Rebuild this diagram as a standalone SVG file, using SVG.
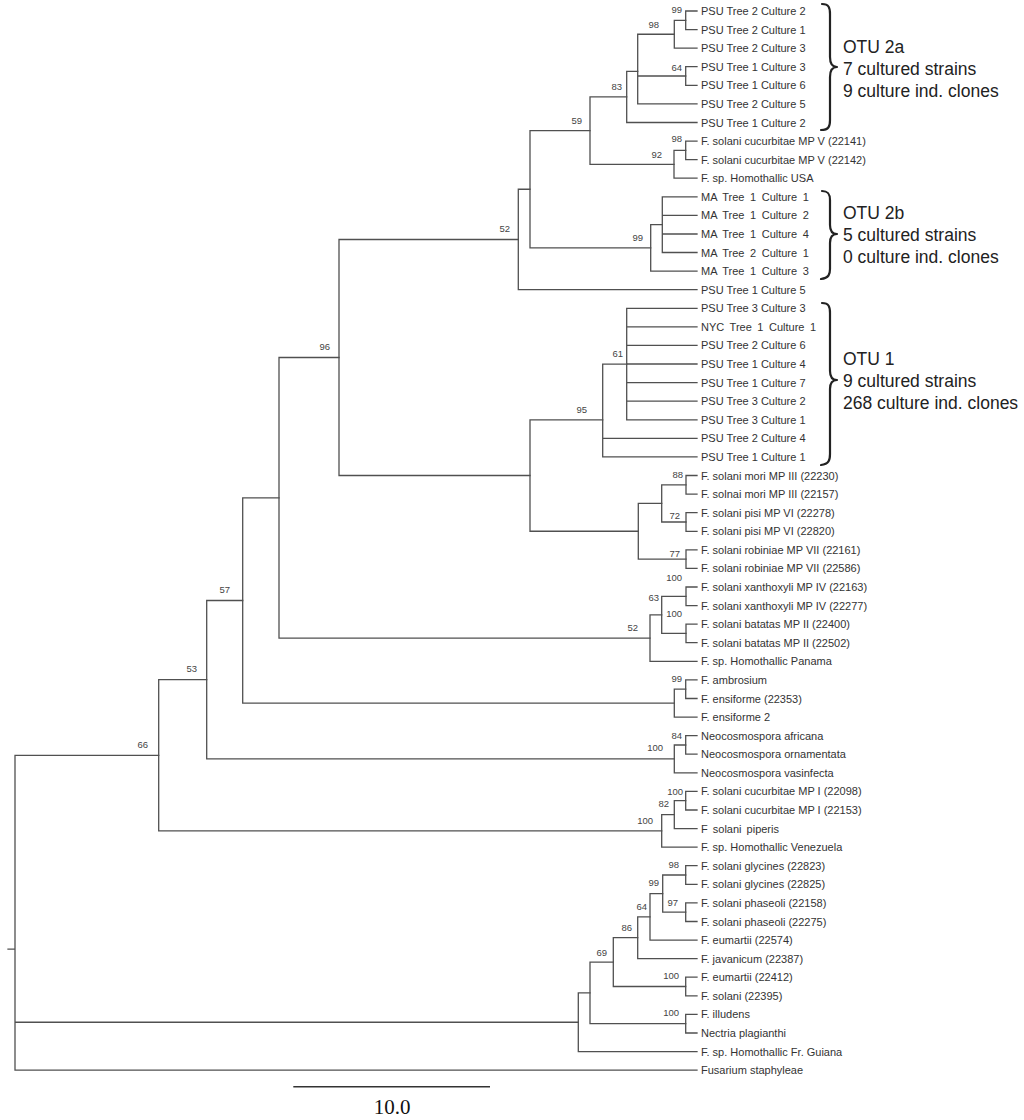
<svg xmlns="http://www.w3.org/2000/svg" width="1024" height="1120" viewBox="0 0 1024 1120">
<style>
.br{fill:none;stroke:#505050;stroke-width:1.3;stroke-linecap:square}
.lf{font-family:"Liberation Sans",Arial,sans-serif;font-size:11px;fill:#333}
.bs{font-family:"Liberation Sans",Arial,sans-serif;font-size:9.5px;fill:#444;text-anchor:end}
.otu{font-family:"Liberation Sans",Arial,sans-serif;font-size:17.5px;fill:#222}
.brace{fill:none;stroke:#222;stroke-width:2.2;stroke-linecap:round;stroke-linejoin:round}
</style>
<rect width="1024" height="1120" fill="#fff"/>
<g id="connectors" class="br">
<path d="M8 949.2H15M15 755.3V1070.1M15 755.3H158.7M15 1022.25H578.3M15 1070.1H697"/>
<path d="M158.7 679.7V830.9M158.7 679.7H206.7M158.7 830.9H661.7"/>
<path d="M206.7 600.5V758.9M206.7 600.5H242.7M206.7 758.9H674.3"/>
<path d="M242.7 497.8V703.2M242.7 497.8H279M242.7 703.2H674.3"/>
<path d="M279 357.5V638.1M279 357.5H339M279 638.1H650"/>
<path d="M339 239.5V475.5M339 239.5H518.3M339 475.5H530"/>
<path d="M518.3 189.25V289.7M518.3 189.25H530M518.3 289.7H697"/>
<path d="M530 130.6V247.9M530 130.6H590M530 247.9H650.7"/>
<path d="M590 96.9V164.3M590 96.9H626.7M590 164.3H674"/>
<path d="M626.7 71.4V122.5M626.7 71.4H637.7M626.7 122.5H697"/>
<path d="M637.7 34.25V103.9M637.7 34.25H674.3M637.7 76H685.7M637.7 103.9H697"/>
<path d="M674.3 20.3V48.2M674.3 20.3H685.7M674.3 48.2H697"/>
<path d="M685.7 11V29.6M685.7 11H697M685.7 29.6H697"/>
<path d="M685.7 66.7V85.3M685.7 66.7H697M685.7 85.3H697"/>
<path d="M674 150.35V178.2M674 150.35H685.7M674 178.2H697"/>
<path d="M685.7 141.1V159.6M685.7 141.1H697M685.7 159.6H697"/>
<path d="M650.7 224.7V271.1M650.7 224.7H662.3M650.7 271.1H697"/>
<path d="M662.3 196.8V252.5M662.3 196.8H697M662.3 215.4H697M662.3 234H697M662.3 252.5H697"/>
<path d="M530 419.8V531.25M530 419.8H602.7M530 531.25H638.3"/>
<path d="M602.7 364.05V456.9M602.7 364.05H626.7M602.7 438.4H697M602.7 456.9H697"/>
<path d="M626.7 308.3V419.8M626.7 308.3H697M626.7 326.9H697M626.7 345.4H697M626.7 364H697M626.7 382.6H697M626.7 401.2H697M626.7 419.8H697"/>
<path d="M638.3 503.4V559.1M638.3 503.4H661.7M638.3 559.1H686"/>
<path d="M661.7 484.8V522M661.7 484.8H686M661.7 522H686"/>
<path d="M686 475.5V494.1M686 475.5H697M686 494.1H697"/>
<path d="M686 512.7V531.3M686 512.7H697M686 531.3H697"/>
<path d="M686 549.8V568.4M686 549.8H697M686 568.4H697"/>
<path d="M650 614.9V661.3M650 614.9H661.7M650 661.3H697"/>
<path d="M661.7 596.3V633.45M661.7 596.3H686M661.7 633.45H686"/>
<path d="M686 587V605.6M686 587H697M686 605.6H697"/>
<path d="M686 624.2V642.7M686 624.2H697M686 642.7H697"/>
<path d="M674.3 689.2V717.1M674.3 689.2H685.7M674.3 717.1H697"/>
<path d="M685.7 679.9V698.5M685.7 679.9H697M685.7 698.5H697"/>
<path d="M674.3 745V772.8M674.3 745H685.7M674.3 772.8H697"/>
<path d="M685.7 735.7V754.2M685.7 735.7H697M685.7 754.2H697"/>
<path d="M661.7 814.65V847.1M661.7 814.65H674.3M661.7 847.1H697"/>
<path d="M674.3 800.7V828.6M674.3 800.7H685.7M674.3 828.6H697"/>
<path d="M685.7 791.4V810M685.7 791.4H697M685.7 810H697"/>
<path d="M578.3 992.9V1051.6M578.3 992.9H590M578.3 1051.6H697"/>
<path d="M590 962.1V1023.7M590 962.1H613.3M590 1023.7H685.7"/>
<path d="M613.3 937.7V986.5M613.3 937.7H637.7M613.3 986.5H685.7"/>
<path d="M637.7 916.85V958.6M637.7 916.85H650M637.7 958.6H697"/>
<path d="M650 893.6V940.1M650 893.6H662.7M650 940.1H697"/>
<path d="M662.7 875V912.2M662.7 875H685.7M662.7 912.2H685.7"/>
<path d="M685.7 865.7V884.3M685.7 865.7H697M685.7 884.3H697"/>
<path d="M685.7 902.9V921.5M685.7 902.9H697M685.7 921.5H697"/>
<path d="M685.7 977.2V995.8M685.7 977.2H697M685.7 995.8H697"/>
<path d="M685.7 1014.4V1033M685.7 1014.4H697M685.7 1033H697"/>
</g>
<g id="bootstrap">
<text class="bs" x="682" y="13.3">99</text>
<text class="bs" x="659" y="28.3">98</text>
<text class="bs" x="682" y="71.3">64</text>
<text class="bs" x="622" y="90.3">83</text>
<text class="bs" x="582" y="124.3">59</text>
<text class="bs" x="682" y="142.3">98</text>
<text class="bs" x="662" y="158.3">92</text>
<text class="bs" x="643" y="241.3">99</text>
<text class="bs" x="510" y="232.3">52</text>
<text class="bs" x="623" y="357.3">61</text>
<text class="bs" x="587" y="413.3">95</text>
<text class="bs" x="330" y="350.3">96</text>
<text class="bs" x="683" y="478.3">88</text>
<text class="bs" x="680" y="519">72</text>
<text class="bs" x="680" y="556.5">77</text>
<text class="bs" x="682" y="581.3">100</text>
<text class="bs" x="659" y="601.3">63</text>
<text class="bs" x="682" y="617.3">100</text>
<text class="bs" x="638" y="631.3">52</text>
<text class="bs" x="230" y="593.3">57</text>
<text class="bs" x="197" y="672.3">53</text>
<text class="bs" x="682" y="682.3">99</text>
<text class="bs" x="682" y="739.3">84</text>
<text class="bs" x="663" y="751.3">100</text>
<text class="bs" x="148" y="748.3">66</text>
<text class="bs" x="683" y="795.3">100</text>
<text class="bs" x="669" y="807.3">82</text>
<text class="bs" x="653" y="824.3">100</text>
<text class="bs" x="679" y="868.3">98</text>
<text class="bs" x="659" y="886.3">99</text>
<text class="bs" x="678" y="906.3">97</text>
<text class="bs" x="647" y="910.3">64</text>
<text class="bs" x="632" y="931.3">86</text>
<text class="bs" x="607" y="956.3">69</text>
<text class="bs" x="679" y="979.3">100</text>
<text class="bs" x="679" y="1016.3">100</text>
</g>
<g id="leaves">
<g id="leaf-01"><text class="lf" x="701" y="15">PSU Tree 2 Culture 2</text></g>
<g id="leaf-02"><text class="lf" x="701" y="33.6">PSU Tree 2 Culture 1</text></g>
<g id="leaf-03"><text class="lf" x="701" y="52.2">PSU Tree 2 Culture 3</text></g>
<g id="leaf-04"><text class="lf" x="701" y="70.7">PSU Tree 1 Culture 3</text></g>
<g id="leaf-05"><text class="lf" x="701" y="89.3">PSU Tree 1 Culture 6</text></g>
<g id="leaf-06"><text class="lf" x="701" y="107.9">PSU Tree 2 Culture 5</text></g>
<g id="leaf-07"><text class="lf" x="701" y="126.5">PSU Tree 1 Culture 2</text></g>
<g id="leaf-08"><text class="lf" x="701" y="145.1">F. solani cucurbitae MP V (22141)</text></g>
<g id="leaf-09"><text class="lf" x="701" y="163.6">F. solani cucurbitae MP V (22142)</text></g>
<g id="leaf-10"><text class="lf" x="701" y="182.2">F. sp. Homothallic USA</text></g>
<g id="leaf-11"><text class="lf" x="701" y="200.8" word-spacing="2.5">MA Tree 1 Culture 1</text></g>
<g id="leaf-12"><text class="lf" x="701" y="219.4" word-spacing="2.5">MA Tree 1 Culture 2</text></g>
<g id="leaf-13"><text class="lf" x="701" y="238" word-spacing="2.5">MA Tree 1 Culture 4</text></g>
<g id="leaf-14"><text class="lf" x="701" y="256.5" word-spacing="2.5">MA Tree 2 Culture 1</text></g>
<g id="leaf-15"><text class="lf" x="701" y="275.1" word-spacing="2.5">MA Tree 1 Culture 3</text></g>
<g id="leaf-16"><text class="lf" x="701" y="293.7">PSU Tree 1 Culture 5</text></g>
<g id="leaf-17"><text class="lf" x="701" y="312.3">PSU Tree 3 Culture 3</text></g>
<g id="leaf-18"><text class="lf" x="701" y="330.9" word-spacing="2.5">NYC Tree 1 Culture 1</text></g>
<g id="leaf-19"><text class="lf" x="701" y="349.4">PSU Tree 2 Culture 6</text></g>
<g id="leaf-20"><text class="lf" x="701" y="368">PSU Tree 1 Culture 4</text></g>
<g id="leaf-21"><text class="lf" x="701" y="386.6">PSU Tree 1 Culture 7</text></g>
<g id="leaf-22"><text class="lf" x="701" y="405.2">PSU Tree 3 Culture 2</text></g>
<g id="leaf-23"><text class="lf" x="701" y="423.8">PSU Tree 3 Culture 1</text></g>
<g id="leaf-24"><text class="lf" x="701" y="442.4">PSU Tree 2 Culture 4</text></g>
<g id="leaf-25"><text class="lf" x="701" y="460.9">PSU Tree 1 Culture 1</text></g>
<g id="leaf-26"><text class="lf" x="701" y="479.5">F. solani mori MP III (22230)</text></g>
<g id="leaf-27"><text class="lf" x="701" y="498.1">F. solnai mori MP III (22157)</text></g>
<g id="leaf-28"><text class="lf" x="701" y="516.7">F. solani pisi MP VI (22278)</text></g>
<g id="leaf-29"><text class="lf" x="701" y="535.3">F. solani pisi MP VI (22820)</text></g>
<g id="leaf-30"><text class="lf" x="701" y="553.8">F. solani robiniae MP VII (22161)</text></g>
<g id="leaf-31"><text class="lf" x="701" y="572.4">F. solani robiniae MP VII (22586)</text></g>
<g id="leaf-32"><text class="lf" x="701" y="591">F. solani xanthoxyli MP IV (22163)</text></g>
<g id="leaf-33"><text class="lf" x="701" y="609.6">F. solani xanthoxyli MP IV (22277)</text></g>
<g id="leaf-34"><text class="lf" x="701" y="628.2">F. solani batatas MP II (22400)</text></g>
<g id="leaf-35"><text class="lf" x="701" y="646.7">F. solani batatas MP II (22502)</text></g>
<g id="leaf-36"><text class="lf" x="701" y="665.3">F. sp. Homothallic Panama</text></g>
<g id="leaf-37"><text class="lf" x="701" y="683.9">F. ambrosium</text></g>
<g id="leaf-38"><text class="lf" x="701" y="702.5">F. ensiforme (22353)</text></g>
<g id="leaf-39"><text class="lf" x="701" y="721.1">F. ensiforme 2</text></g>
<g id="leaf-40"><text class="lf" x="701" y="739.7">Neocosmospora africana</text></g>
<g id="leaf-41"><text class="lf" x="701" y="758.2">Neocosmospora ornamentata</text></g>
<g id="leaf-42"><text class="lf" x="701" y="776.8">Neocosmospora vasinfecta</text></g>
<g id="leaf-43"><text class="lf" x="701" y="795.4">F. solani cucurbitae MP I (22098)</text></g>
<g id="leaf-44"><text class="lf" x="701" y="814">F. solani cucurbitae MP I (22153)</text></g>
<g id="leaf-45"><text class="lf" x="701" y="832.6" word-spacing="2">F solani piperis</text></g>
<g id="leaf-46"><text class="lf" x="701" y="851.1">F. sp. Homothallic Venezuela</text></g>
<g id="leaf-47"><text class="lf" x="701" y="869.7">F. solani glycines (22823)</text></g>
<g id="leaf-48"><text class="lf" x="701" y="888.3">F. solani glycines (22825)</text></g>
<g id="leaf-49"><text class="lf" x="701" y="906.9">F. solani phaseoli (22158)</text></g>
<g id="leaf-50"><text class="lf" x="701" y="925.5">F. solani phaseoli (22275)</text></g>
<g id="leaf-51"><text class="lf" x="701" y="944.1">F. eumartii (22574)</text></g>
<g id="leaf-52"><text class="lf" x="701" y="962.6">F. javanicum (22387)</text></g>
<g id="leaf-53"><text class="lf" x="701" y="981.2">F. eumartii (22412)</text></g>
<g id="leaf-54"><text class="lf" x="701" y="999.8">F. solani (22395)</text></g>
<g id="leaf-55"><text class="lf" x="701" y="1018.4">F. illudens</text></g>
<g id="leaf-56"><text class="lf" x="701" y="1037">Nectria plagianthi</text></g>
<g id="leaf-57"><text class="lf" x="701" y="1055.6">F. sp. Homothallic Fr. Guiana</text></g>
<g id="leaf-58"><text class="lf" x="701" y="1074.1">Fusarium staphyleae</text></g>
</g>
<g id="otu-2a">
<path class="brace" d="M822 4C829 4 830 8 830 14V57C830 63 832 67 837 67C832 67 830 71 830 77V120C830 126 829 130 821 130"/>
<text class="otu" x="843" y="53">OTU 2a</text>
<text class="otu" x="843" y="75">7 cultured strains</text>
<text class="otu" x="843" y="97">9 culture ind. clones</text>
</g>
<g id="otu-2b">
<path class="brace" d="M822 191C829 191 830 195 830 200V225C830 230 832 234 837 234C832 234 830 238 830 243V269C830 274 829 278 821 279"/>
<text class="otu" x="843" y="219">OTU 2b</text>
<text class="otu" x="843" y="241">5 cultured strains</text>
<text class="otu" x="843" y="263">0 culture ind. clones</text>
</g>
<g id="otu-1">
<path class="brace" d="M822 303C829 303 830 307 830 313V371C830 376 832 380 837 380C832 380 830 384 830 389V454C830 460 829 464 821 465"/>
<text class="otu" x="843" y="365">OTU 1</text>
<text class="otu" x="843" y="387">9 cultured strains</text>
<text class="otu" x="843" y="409">268 culture ind. clones</text>
</g>
<g id="scale-bar">
<path d="M293.3 1086.7H490" fill="none" stroke="#333" stroke-width="1.4"/>
<text x="392" y="1114" font-family="'Liberation Serif','Times New Roman',serif" font-size="21" fill="#111" text-anchor="middle">10.0</text>
</g>
</svg>
